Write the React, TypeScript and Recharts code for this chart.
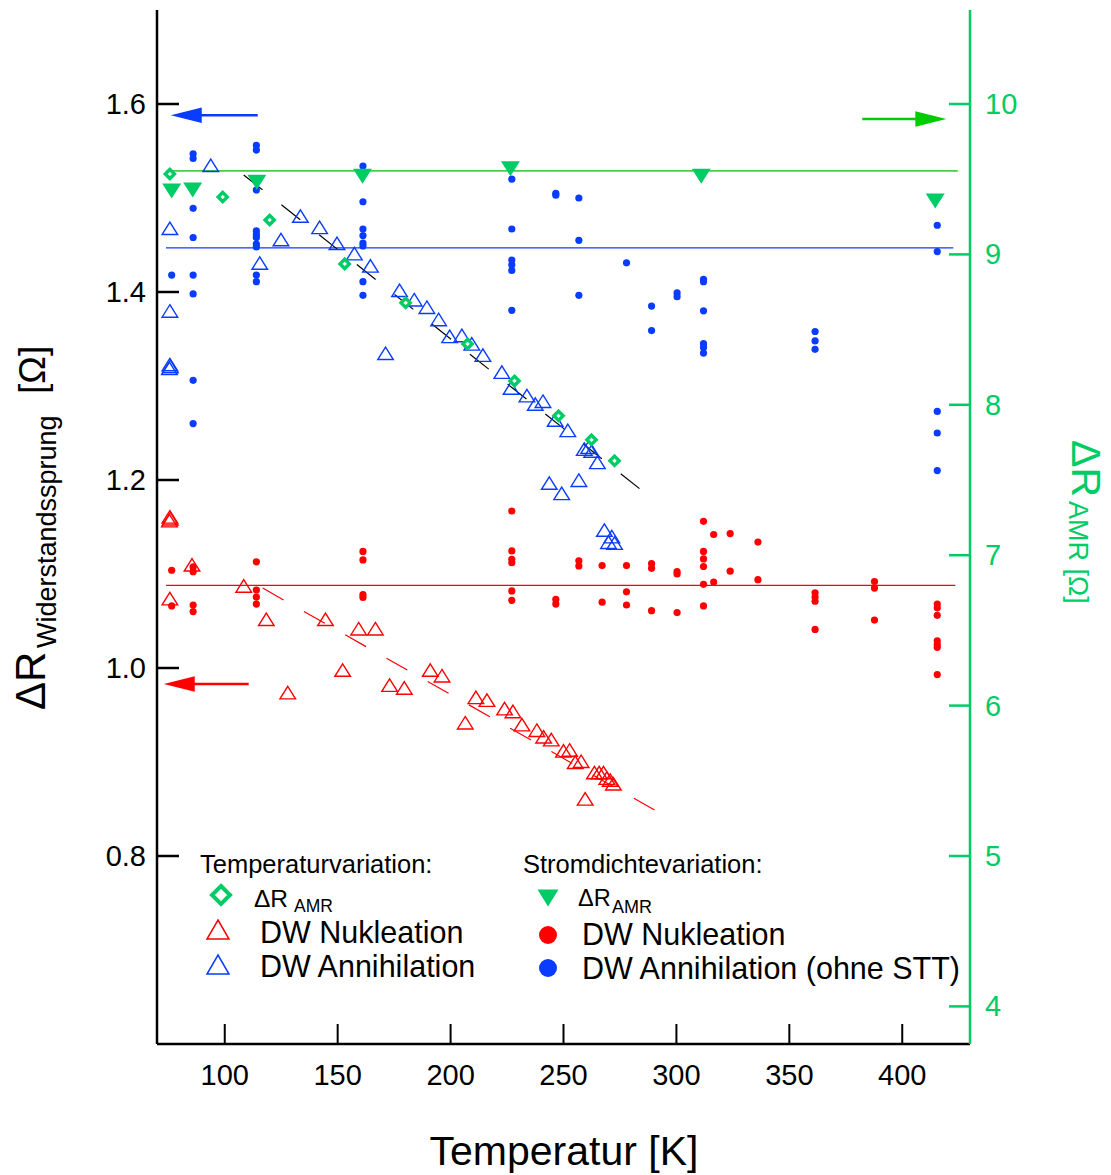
import React from 'react';
import { ComposedChart, Scatter, Line, XAxis, YAxis, ReferenceLine } from 'recharts';

const FONT = '"Liberation Sans", Arial, Helvetica, sans-serif';
const BLUE = '#0a3cff';
const RED = '#ff0000';
const GREEN = '#00cc66';
const GREEN_LINE = '#44d044';
const GREEN_ARROW = '#00cc00';

const W = 1100;
const H = 1167;

const xDomain = [70, 430];
const leftDomain = [0.6, 1.7];
const rightDomain = [3.75, 10.625];
const xTicks = [100, 150, 200, 250, 300, 350, 400];
const leftTicks = [0.8, 1.0, 1.2, 1.4, 1.6];
const rightTicks = [4, 5, 6, 7, 8, 9, 10];

type P = { x: number; y: number };

// Temperaturvariation: ΔR_AMR (right axis)
const tempAmr: P[] = [
  { x: 75.7, y: 9.535 }, { x: 99.1, y: 9.382 }, { x: 119.9, y: 9.229 }, { x: 153.1, y: 8.937 },
  { x: 180.1, y: 8.678 }, { x: 207.5, y: 8.405 }, { x: 228.3, y: 8.159 }, { x: 247.8, y: 7.927 },
  { x: 262.4, y: 7.767 }, { x: 272.6, y: 7.628 },
];

// Stromdichtevariation: ΔR_AMR (right axis)
const currentAmr: P[] = [
  { x: 76.5, y: 9.422 }, { x: 85.8, y: 9.429 }, { x: 114.2, y: 9.48 }, { x: 161.0, y: 9.52 },
  { x: 226.5, y: 9.57 }, { x: 311.0, y: 9.52 }, { x: 414.6, y: 9.355 },
];

// Temperaturvariation: DW Annihilation (left axis)
const tempAnnihilation: P[] = [
  { x: 93.8, y: 1.534 }, { x: 75.7, y: 1.467 }, { x: 133.5, y: 1.48 }, { x: 142.0, y: 1.468 },
  { x: 124.9, y: 1.455 }, { x: 149.7, y: 1.451 }, { x: 157.4, y: 1.44 }, { x: 115.5, y: 1.43 },
  { x: 164.5, y: 1.427 }, { x: 75.7, y: 1.379 }, { x: 177.4, y: 1.401 }, { x: 183.9, y: 1.391 },
  { x: 189.5, y: 1.383 }, { x: 194.7, y: 1.37 }, { x: 199.6, y: 1.352 }, { x: 171.2, y: 1.334 },
  { x: 75.7, y: 1.322 }, { x: 75.9, y: 1.32 }, { x: 75.5, y: 1.318 }, { x: 205.0, y: 1.353 },
  { x: 209.4, y: 1.344 }, { x: 214.3, y: 1.332 }, { x: 222.7, y: 1.314 }, { x: 226.8, y: 1.297 },
  { x: 233.8, y: 1.289 }, { x: 237.5, y: 1.28 }, { x: 240.9, y: 1.283 }, { x: 246.3, y: 1.263 },
  { x: 251.9, y: 1.252 }, { x: 259.2, y: 1.232 }, { x: 261.1, y: 1.234 }, { x: 262.5, y: 1.23 },
  { x: 265.0, y: 1.218 }, { x: 243.7, y: 1.196 }, { x: 249.2, y: 1.185 }, { x: 256.8, y: 1.199 },
  { x: 268.1, y: 1.146 }, { x: 271.4, y: 1.139 }, { x: 269.9, y: 1.133 }, { x: 272.6, y: 1.132 },
];

// Temperaturvariation: DW Nukleation (left axis)
const tempNucleation: P[] = [
  { x: 75.7, y: 1.16 }, { x: 75.9, y: 1.158 }, { x: 75.5, y: 1.156 }, { x: 85.5, y: 1.109 },
  { x: 75.7, y: 1.073 }, { x: 108.4, y: 1.0865 }, { x: 118.4, y: 1.051 }, { x: 144.6, y: 1.051 },
  { x: 159.3, y: 1.041 }, { x: 166.7, y: 1.041 }, { x: 152.2, y: 0.997 }, { x: 191.0, y: 0.997 },
  { x: 196.2, y: 0.991 }, { x: 127.9, y: 0.973 }, { x: 173.0, y: 0.981 }, { x: 179.5, y: 0.978 },
  { x: 211.2, y: 0.968 }, { x: 216.1, y: 0.965 }, { x: 206.5, y: 0.941 }, { x: 223.9, y: 0.956 },
  { x: 227.6, y: 0.953 }, { x: 231.6, y: 0.939 }, { x: 238.2, y: 0.933 }, { x: 241.2, y: 0.926 },
  { x: 244.6, y: 0.923 }, { x: 250.0, y: 0.911 }, { x: 252.7, y: 0.912 }, { x: 255.2, y: 0.899 },
  { x: 257.8, y: 0.9 }, { x: 263.7, y: 0.888 }, { x: 265.8, y: 0.888 }, { x: 267.7, y: 0.888 },
  { x: 269.2, y: 0.882 }, { x: 270.7, y: 0.88 }, { x: 272.1, y: 0.876 }, { x: 259.6, y: 0.86 },
];

// Stromdichtevariation: DW Annihilation (ohne STT) (left axis)
const currentAnnihilationGroups = [
  { x: 76.5, ys: [1.418] },
  { x: 86.0, ys: [1.547, 1.542, 1.489, 1.458, 1.418, 1.398, 1.306, 1.26] },
  { x: 114.0, ys: [1.556, 1.551, 1.5085, 1.465, 1.461, 1.458, 1.451, 1.448, 1.418, 1.411] },
  { x: 161.2, ys: [1.534, 1.496, 1.467, 1.46, 1.452, 1.449, 1.411, 1.3965] },
  { x: 227.1, ys: [1.52, 1.467, 1.434, 1.429, 1.423, 1.3805] },
  { x: 246.6, ys: [1.505, 1.503] },
  { x: 256.8, ys: [1.5, 1.455, 1.3965] },
  { x: 277.9, ys: [1.431] },
  { x: 289.0, ys: [1.385, 1.359] },
  { x: 300.3, ys: [1.399, 1.395] },
  { x: 312.0, ys: [1.4135, 1.411, 1.38, 1.345, 1.341, 1.335] },
  { x: 361.4, ys: [1.358, 1.348, 1.339] },
  { x: 415.5, ys: [1.471, 1.443, 1.273, 1.25, 1.21] },
];

// Stromdichtevariation: DW Nukleation (left axis)
const currentNucleationGroups = [
  { x: 76.5, ys: [1.104, 1.066] },
  { x: 86.0, ys: [1.1075, 1.1025, 1.067, 1.06] },
  { x: 114.0, ys: [1.113, 1.083, 1.0755, 1.068] },
  { x: 161.2, ys: [1.124, 1.115, 1.078, 1.075] },
  { x: 227.1, ys: [1.167, 1.1245, 1.1156, 1.112, 1.082, 1.072] },
  { x: 246.6, ys: [1.073, 1.068] },
  { x: 256.8, ys: [1.114, 1.1085] },
  { x: 267.1, ys: [1.109, 1.07] },
  { x: 277.9, ys: [1.109, 1.081, 1.067] },
  { x: 289.0, ys: [1.111, 1.106, 1.061] },
  { x: 300.3, ys: [1.1025, 1.1, 1.059] },
  { x: 312.0, ys: [1.156, 1.124, 1.116, 1.108, 1.089, 1.066] },
  { x: 316.5, ys: [1.142, 1.0915] },
  { x: 323.8, ys: [1.143, 1.103] },
  { x: 336.1, ys: [1.134, 1.094] },
  { x: 361.4, ys: [1.08, 1.0755, 1.071, 1.041] },
  { x: 387.7, ys: [1.092, 1.085, 1.051] },
  { x: 415.5, ys: [1.068, 1.064, 1.056, 1.029, 1.025, 1.022, 0.993] },
];

// mean lines and fits
const amrMeanLine: P[] = [{ x: 74, y: 9.555 }, { x: 424.6, y: 9.555 }];
const annMeanLine: P[] = [{ x: 74, y: 1.447 }, { x: 422.6, y: 1.447 }];
const nucMeanLine: P[] = [{ x: 74, y: 1.088 }, { x: 423.5, y: 1.088 }];
const annFit: P[] = [{ x: 108.4, y: 1.5245 }, { x: 284.1, y: 1.19 }];
const nucFit: P[] = [{ x: 116.8, y: 1.085 }, { x: 290.3, y: 0.849 }];

const arrows = [
  { axis: 'L', x1: 76.1, x2: 114.6, y: 1.588, color: BLUE, head: 'left' },
  { axis: 'L', x1: 73.0, x2: 110.6, y: 0.983, color: RED, head: 'left' },
  { axis: 'R', x1: 382.3, x2: 419.5, y: 9.9, color: GREEN_ARROW, head: 'right' },
];

const flatten = (groups: { x: number; ys: number[] }[]): P[] =>
  groups.flatMap((g) => g.ys.map((y) => ({ x: g.x, y })));

const currentAnnihilation = flatten(currentAnnihilationGroups);
const currentNucleation = flatten(currentNucleationGroups);

// ---------- shapes ----------
const openTriangle = (color: string) => (p: any) => {
  const { cx, cy } = p;
  if (cx == null || cy == null) return <g />;
  return (
    <polygon
      points={`${cx},${cy - 7} ${cx + 7.8},${cy + 5.5} ${cx - 7.8},${cy + 5.5}`}
      fill="none"
      stroke={color}
      strokeWidth={1.4}
    />
  );
};

const diamondShape = (p: any) => {
  const { cx, cy } = p;
  if (cx == null || cy == null) return <g />;
  const s = 4.6;
  return (
    <polygon
      points={`${cx},${cy - s} ${cx + s},${cy} ${cx},${cy + s} ${cx - s},${cy}`}
      fill="#fff"
      stroke={GREEN}
      strokeWidth={3.4}
    />
  );
};

const downTriangle = (p: any) => {
  const { cx, cy } = p;
  if (cx == null || cy == null) return <g />;
  return <polygon points={`${cx - 9.5},${cy - 7.5} ${cx + 9.5},${cy - 7.5} ${cx},${cy + 7.5}`} fill={GREEN} />;
};

const dotShape = (color: string) => (p: any) => {
  const { cx, cy } = p;
  if (cx == null || cy == null) return <g />;
  return <circle cx={cx} cy={cy} r={3.6} fill={color} />;
};

const ArrowShape = (props: any) => {
  const { x1, y1, x2, color, head } = props;
  const y = y1;
  const left = Math.min(x1, x2);
  const right = Math.max(x1, x2);
  const hl = 31;
  const hh = 7.8;
  if (head === 'left') {
    return (
      <g>
        <line x1={left + hl - 2} x2={right} y1={y} y2={y} stroke={color} strokeWidth={2.5} />
        <polygon points={`${left},${y} ${left + hl},${y - hh} ${left + hl},${y + hh}`} fill={color} />
      </g>
    );
  }
  return (
    <g>
      <line x1={left} x2={right - hl + 2} y1={y} y2={y} stroke={color} strokeWidth={2.5} />
      <polygon points={`${right},${y} ${right - hl},${y - hh} ${right - hl},${y + hh}`} fill={color} />
    </g>
  );
};

// ---------- ticks ----------
const LeftTick = (props: any) => {
  const { x, y, payload } = props;
  return (
    <g>
      <line x1={x} x2={x + 22} y1={y} y2={y} stroke="#000" strokeWidth={2.5} />
      <text x={x - 11} y={y} textAnchor="end" dominantBaseline="central" fontSize={29} fontFamily={FONT} fill="#000">
        {Number(payload.value).toFixed(1)}
      </text>
    </g>
  );
};

const RightTick = (props: any) => {
  const { x, y, payload } = props;
  return (
    <g>
      <line x1={x - 21} x2={x} y1={y} y2={y} stroke={GREEN} strokeWidth={2.5} />
      <text x={x + 15} y={y} textAnchor="start" dominantBaseline="central" fontSize={29} fontFamily={FONT} fill={GREEN}>
        {payload.value}
      </text>
    </g>
  );
};

const BottomTick = (props: any) => {
  const { x, y, payload } = props;
  return (
    <g>
      <line x1={x} x2={x} y1={y - 20} y2={y} stroke="#000" strokeWidth={2} />
      <text x={x} y={y + 31} textAnchor="middle" dominantBaseline="central" fontSize={29} fontFamily={FONT} fill="#000">
        {payload.value}
      </text>
    </g>
  );
};

// ---------- overlay (legend + titles) ----------
const Overlay = () => (
  <svg
    width={W}
    height={H}
    style={{ position: 'absolute', left: 0, top: 0, pointerEvents: 'none' }}
    fontFamily={FONT}
  >
    {/* x title */}
    <text x={556} y={1157} textAnchor="middle" fontSize={41} fill="#000">Temperatur [K]</text>

    {/* left title */}
    <g transform="translate(37,702) rotate(-90)">
      <text x={0} y={0} fontSize={42} fill="#000">ΔR</text>
      <text x={62} y={11} fontSize={27} fill="#000">Widerstandssprung</text>
      <text x={316} y={0} fontSize={37} fill="#000">[Ω]</text>
    </g>

    {/* right title */}
    <g transform="translate(1064,432) rotate(90)">
      <text x={0} y={0} fontSize={41} fill={GREEN}>ΔR</text>
      <text x={61} y={3} fontSize={27} fill={GREEN}>AMR [Ω]</text>
    </g>

    {/* legend left block */}
    <text x={192} y={856} dominantBaseline="central" fontSize={25.5} fill="#000">Temperaturvariation:</text>
    <polygon points="213,878 222,887 213,896 204,887" fill="#fff" stroke={GREEN} strokeWidth={4} />
    <text x={246} y={890} dominantBaseline="central" fontSize={24.5} fill="#000">ΔR</text>
    <text x={286} y={898} dominantBaseline="central" fontSize={17.5} fill="#000">AMR</text>
    <polygon points="210,912 221,931 199,931" fill="none" stroke={RED} strokeWidth={1.5} />
    <text x={252} y={924} dominantBaseline="central" fontSize={30.5} fill="#000">DW Nukleation</text>
    <polygon points="210,947 221,966 199,966" fill="none" stroke={BLUE} strokeWidth={1.5} />
    <text x={252} y={958} dominantBaseline="central" fontSize={30.5} fill="#000">DW Annihilation</text>

    {/* legend right block */}
    <text x={515} y={856} dominantBaseline="central" fontSize={25.5} fill="#000">Stromdichtevariation:</text>
    <polygon points="529.5,881.5 550.5,881.5 540,898.5" fill={GREEN} />
    <text x={570} y={890} dominantBaseline="central" fontSize={23.5} fill="#000">ΔR</text>
    <text x={604} y={899} dominantBaseline="central" fontSize={18} fill="#000">AMR</text>
    <circle cx={540} cy={927} r={9} fill={RED} />
    <text x={574} y={926} dominantBaseline="central" fontSize={30.5} fill="#000">DW Nukleation</text>
    <circle cx={540} cy={960} r={9} fill={BLUE} />
    <text x={574} y={960} dominantBaseline="central" fontSize={30.5} fill="#000">DW Annihilation (ohne STT)</text>
  </svg>
);

export default function App() {
  return (
    <div style={{ position: 'relative', width: W, height: H, fontFamily: FONT }}>
      <ComposedChart width={W} height={H} margin={{ top: 2, right: 0, bottom: 0, left: 0 }}>
        <XAxis
          dataKey="x"
          type="number"
          domain={xDomain}
          ticks={xTicks}
          allowDataOverflow
          height={131}
          tickSize={0}
          tickMargin={0}
          tickLine={false}
          tick={<BottomTick />}
          axisLine={{ stroke: '#000', strokeWidth: 2.5 }}
          interval={0}
        />
        <YAxis
          yAxisId="L"
          orientation="left"
          type="number"
          domain={leftDomain}
          ticks={leftTicks}
          allowDataOverflow
          width={149}
          tickSize={0}
          tickMargin={0}
          tickLine={false}
          tick={<LeftTick />}
          axisLine={{ stroke: '#000', strokeWidth: 2.5 }}
          interval={0}
        />
        <YAxis
          yAxisId="R"
          orientation="right"
          type="number"
          domain={rightDomain}
          ticks={rightTicks}
          allowDataOverflow
          width={138}
          tickSize={0}
          tickMargin={0}
          tickLine={false}
          tick={<RightTick />}
          axisLine={{ stroke: GREEN, strokeWidth: 2.5 }}
          interval={0}
        />

        <Line yAxisId="R" data={amrMeanLine} dataKey="y" stroke={GREEN_LINE} strokeWidth={1.8} dot={false} activeDot={false} isAnimationActive={false} />
        <Line yAxisId="L" data={annMeanLine} dataKey="y" stroke={BLUE} strokeWidth={1.3} dot={false} activeDot={false} isAnimationActive={false} />
        <Line yAxisId="L" data={nucMeanLine} dataKey="y" stroke={RED} strokeWidth={1.3} dot={false} activeDot={false} isAnimationActive={false} />
        <Line yAxisId="L" data={annFit} dataKey="y" stroke="#000" strokeWidth={1.2} strokeDasharray="24 24.1" dot={false} activeDot={false} isAnimationActive={false} />
        <Line yAxisId="L" data={nucFit} dataKey="y" stroke={RED} strokeWidth={1.2} strokeDasharray="24 23.4" dot={false} activeDot={false} isAnimationActive={false} />

        {arrows.map((a, i) => (
          <ReferenceLine
            key={i}
            yAxisId={a.axis}
            segment={[{ x: a.x1, y: a.y }, { x: a.x2, y: a.y }]}
            ifOverflow="visible"
            shape={(p: any) => <ArrowShape {...p} color={a.color} head={a.head} />}
          />
        ))}

        <Scatter yAxisId="L" data={currentNucleation} dataKey="y" shape={dotShape(RED)} isAnimationActive={false} />
        <Scatter yAxisId="L" data={currentAnnihilation} dataKey="y" shape={dotShape(BLUE)} isAnimationActive={false} />
        <Scatter yAxisId="L" data={tempNucleation} dataKey="y" shape={openTriangle(RED)} isAnimationActive={false} />
        <Scatter yAxisId="L" data={tempAnnihilation} dataKey="y" shape={openTriangle(BLUE)} isAnimationActive={false} />
        <Scatter yAxisId="R" data={tempAmr} dataKey="y" shape={diamondShape} isAnimationActive={false} />
        <Scatter yAxisId="R" data={currentAmr} dataKey="y" shape={downTriangle} isAnimationActive={false} />
      </ComposedChart>
      <Overlay />
    </div>
  );
}
